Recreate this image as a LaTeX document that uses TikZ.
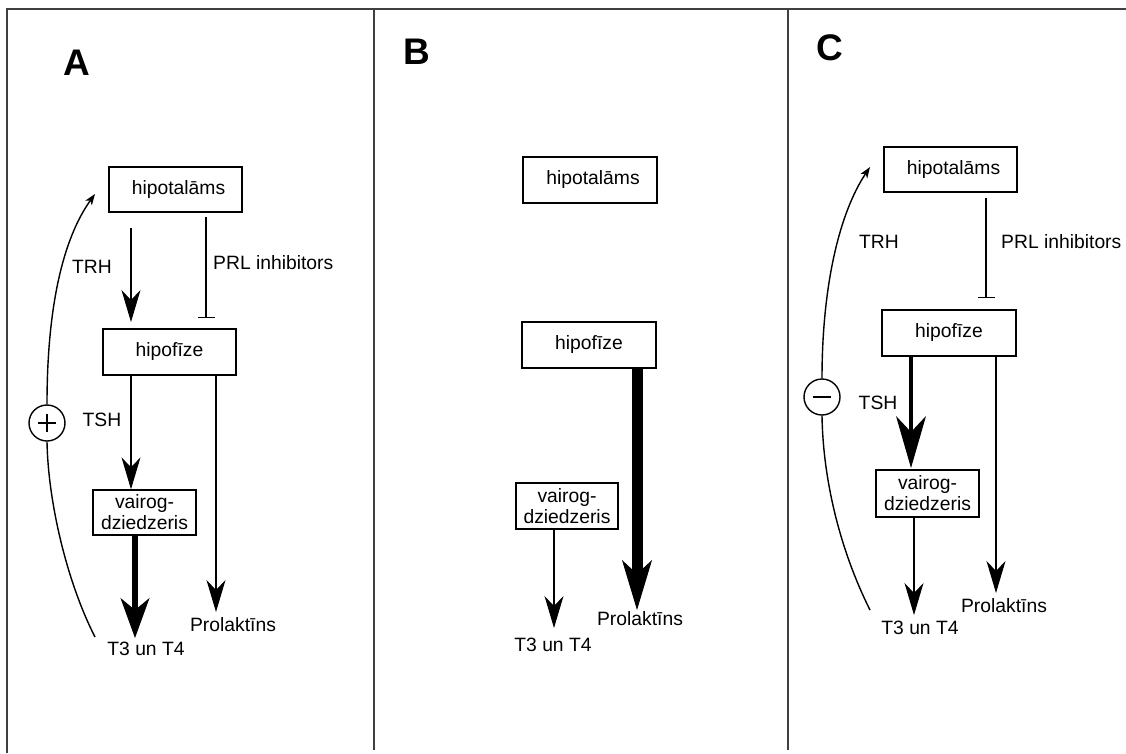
\documentclass[tikz,border=0pt]{standalone}
\usepackage{fontspec}
\setmainfont{Liberation Sans}
\usetikzlibrary{arrows.meta}
\begin{document}
\begin{tikzpicture}[x=1pt,y=-1pt,
  box/.style={draw,line width=1.4pt,inner sep=0pt,font=\fontsize{19.3}{21}\selectfont},
  lbl/.style={inner sep=0pt,font=\fontsize{19.3}{21}\selectfont},
  panel/.style={inner sep=0pt,font=\fontsize{37}{40}\selectfont\bfseries},
  frame/.style={line width=2pt,draw=black!75},
  thin/.style={line width=1.5pt,-{Stealth[length=32pt,width=19pt,inset=10pt,line width=1pt]}},
  thickA/.style={line width=6pt,-{Stealth[length=40pt,width=29pt,inset=12pt,line width=1pt]}},
  thickB/.style={line width=11pt,-{Stealth[length=50pt,width=30pt,inset=14pt,line width=1pt]}},
  thickC/.style={line width=3.5pt,-{Stealth[length=52pt,width=30pt,inset=16pt,line width=1pt]}},
  inhib/.style={line width=1.5pt,-{Bar[width=17pt,line width=1.5pt]}},
  feed/.style={line width=1.4pt},
  feedarrow/.style={line width=1.4pt,-{Stealth[length=11pt,width=8pt,inset=3pt]}},
  sign/.style={circle,draw,line width=1.4pt,minimum size=36pt,inner sep=0pt}]
\useasboundingbox (0,0) rectangle (1126,753);
\fill[white] (0,0) rectangle (1126,753);
% frame
\draw[frame] (7,753) -- (7,9) -- (1126,9);
\draw[frame] (374,9) -- (374,750);
\draw[frame] (788,9) -- (788,750);

% ---------------- Panel A
\node[panel] (lA) at (77,63) {A};
\node[box,minimum width=133pt,minimum height=45pt] (hipA) at (175.5,189.5) {\hspace*{6pt}hipotalāms};
\node[box,minimum width=133pt,minimum height=46pt] (hpfA) at (169.5,352) {hipofīze};
\node[box,minimum width=103pt,minimum height=45pt,align=center] (vaiA) at (144.5,512.5) {vairog-\\dziedzeris};
\node[lbl] (trhA) at (92,267) {TRH};
\node[lbl,anchor=west] (prlinA) at (213,263) {PRL inhibitors};
\node[lbl] (tshA) at (102,420) {TSH};
\node[lbl] (t3A) at (146,649) {T3 un T4};
\node[lbl] (prlA) at (233,625) {Prolaktīns};
\node[sign] (plusA) at (47,423) {};
\draw[line width=1.6pt] (plusA.center) ++(-9pt,0) -- ++(18pt,0);
\draw[line width=1.6pt] (plusA.center) ++(0,-9pt) -- ++(0,18pt);
\coordinate (fbA1) at (95,637);
\coordinate (fbA2) at (95,194);
\draw[thin] (131,228) -- (131,322);
\draw[inhib] (206,217) -- (206,318);
\draw[thin] (hpfA.south -| 131,0) -- (vaiA.north -| 131,0);
\draw[thin] (hpfA.south -| 216,0) -- (216,612);
\draw[thickA] (vaiA.south -| 135,0) -- (135,638);
\draw[feed] (fbA1) .. controls (66,580) and (48,500) .. (plusA.south);
\draw[feedarrow] (plusA.north) .. controls (47,310) and (62,240) .. (fbA2);

% ---------------- Panel B
\node[panel] (lB) at (417,52) {B};
\node[box,minimum width=134pt,minimum height=46pt] (hipB) at (590,180) {\hspace*{6pt}hipotalāms};
\node[box,minimum width=134pt,minimum height=46pt] (hpfB) at (589,345) {hipofīze};
\node[box,minimum width=102pt,minimum height=46pt,align=center] (vaiB) at (567,506) {vairog-\\dziedzeris};
\node[lbl] (t3B) at (553,645) {T3 un T4};
\node[lbl] (prlB) at (640,619) {Prolaktīns};
\draw[thickB] (hpfB.south -| 637,0) -- (637,610);
\draw[thin] (vaiB.south -| 554,0) -- (554,628);

% ---------------- Panel C
\node[panel] (lC) at (830,48) {C};
\node[box,minimum width=133pt,minimum height=45pt] (hipC) at (950.5,169.5) {\hspace*{6pt}hipotalāms};
\node[box,minimum width=134pt,minimum height=46pt] (hpfC) at (949,333) {hipofīze};
\node[box,minimum width=103pt,minimum height=47pt,align=center] (vaiC) at (927.5,493.5) {vairog-\\dziedzeris};
\node[lbl] (trhC) at (879,242) {TRH};
\node[lbl,anchor=west] (prlinC) at (1001,242) {PRL inhibitors};
\node[lbl] (tshC) at (878,403) {TSH};
\node[lbl] (t3C) at (920,628) {T3 un T4};
\node[lbl] (prlC) at (1004,606) {Prolaktīns};
\node[sign] (minusC) at (822,397) {};
\draw[line width=2.5pt] (minusC.center) ++(-9pt,0) -- ++(18pt,0);
\coordinate (fbC1) at (870,610);
\coordinate (fbC2) at (870,167);
\draw[inhib] (986,198) -- (986,298);
\draw[thickC] (hpfC.south -| 911,0) -- (911,468);
\draw[thin] (hpfC.south -| 996,0) -- (996,593);
\draw[thin] (vaiC.south -| 914,0) -- (914,615);
\draw[feed] (fbC1) .. controls (840,550) and (823,480) .. (minusC.south);
\draw[feedarrow] (minusC.north) .. controls (822,290) and (838,215) .. (fbC2);
\end{tikzpicture}
\end{document}
